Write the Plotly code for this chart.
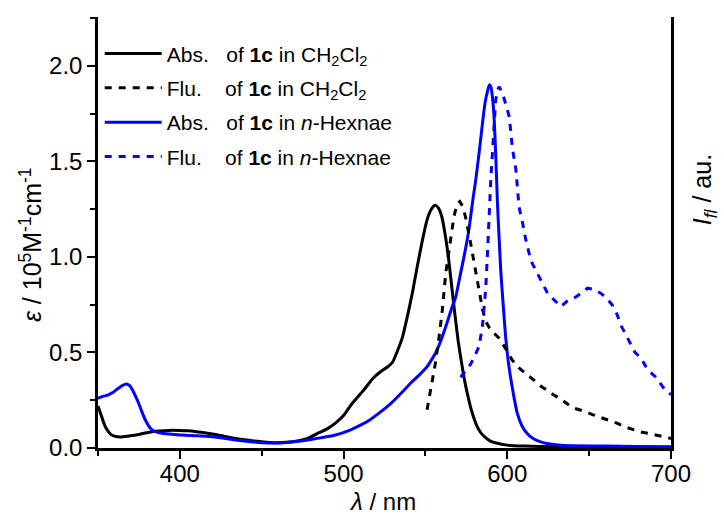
import plotly.graph_objects as go

# ---------------- data ----------------
abs_dcm_wl = [350, 352, 354, 356, 358, 361, 364, 368, 373, 378, 383, 390, 395, 400, 405, 410, 418, 425,
              434, 442, 450, 458, 465, 472, 478, 485, 490, 495, 500, 505, 512, 518, 522, 527, 530, 533,
              536, 539, 542, 545, 548, 550, 552, 554, 556, 558, 560, 562, 564, 566, 568, 570, 572, 574,
              576, 578, 580, 582, 584, 586, 590, 594, 600, 610, 630, 660, 700]
abs_dcm_val = [0.22, 0.17, 0.12, 0.09, 0.07, 0.06, 0.058, 0.062, 0.068, 0.077, 0.085, 0.09, 0.093, 0.092,
               0.09, 0.085, 0.076, 0.065, 0.05, 0.04, 0.033, 0.028, 0.03, 0.037, 0.05, 0.08, 0.10, 0.13,
               0.17, 0.23, 0.30, 0.365, 0.395, 0.425, 0.45, 0.51, 0.58, 0.69, 0.81, 0.95, 1.08, 1.16,
               1.22, 1.255, 1.27, 1.255, 1.21, 1.12, 1.00, 0.85, 0.70, 0.56, 0.45, 0.35, 0.27, 0.20,
               0.147, 0.105, 0.078, 0.06, 0.035, 0.025, 0.015, 0.01, 0.006, 0.005, 0.004]

flu_dcm_wl = [551, 553, 556, 558.3, 560.3, 562.4, 565.4, 567.4, 569.5, 571, 573, 575, 577, 579, 581, 583,
              585, 587, 589, 592, 595, 599, 603, 607, 610, 614, 617, 621, 625, 628, 632, 636, 640, 644,
              648, 652, 657, 662, 667, 672, 677, 681, 686, 691, 696, 700]
flu_dcm_val = [0.20, 0.30, 0.44, 0.58, 0.72, 0.915, 1.09, 1.21, 1.28, 1.29, 1.26, 1.19, 1.10, 1.00, 0.90,
               0.81, 0.72, 0.66, 0.63, 0.60, 0.575, 0.52, 0.46, 0.42, 0.40, 0.37, 0.35, 0.32, 0.30, 0.28,
               0.26, 0.235, 0.21, 0.20, 0.19, 0.175, 0.16, 0.145, 0.13, 0.11, 0.095, 0.085, 0.077, 0.068,
               0.06, 0.05]

abs_hex_wl = [350, 353, 356, 359, 362, 365, 367.5, 369.5, 371, 373, 375, 377, 379, 381, 383, 386, 390,
              395, 401, 410, 418, 426, 434, 442, 450, 458, 465, 472, 480, 488, 495, 504, 510, 516, 522,
              529, 535, 541, 546, 551, 554, 557, 560, 563, 566, 568.5, 571.5, 574, 576.5, 579, 581, 583,
              585, 586.5, 588, 589, 590, 591, 592, 593, 594, 595, 596, 597.5, 599, 600.5, 602, 604, 606,
              609, 612, 616, 620, 625, 631, 640, 660, 680, 700]
abs_hex_val = [0.26, 0.27, 0.277, 0.29, 0.31, 0.328, 0.335, 0.325, 0.305, 0.27, 0.23, 0.185, 0.145, 0.115,
               0.095, 0.083, 0.076, 0.072, 0.068, 0.064, 0.06, 0.052, 0.042, 0.034, 0.028, 0.026, 0.029,
               0.035, 0.045, 0.056, 0.068, 0.094, 0.118, 0.147, 0.185, 0.234, 0.285, 0.34, 0.38, 0.426,
               0.465, 0.51, 0.575, 0.65, 0.73, 0.79, 0.915, 1.02, 1.14, 1.30, 1.42, 1.56, 1.71, 1.81,
               1.87, 1.90, 1.89, 1.83, 1.72, 1.52, 1.28, 1.10, 0.93, 0.75, 0.58, 0.46, 0.37, 0.27, 0.185,
               0.115, 0.077, 0.048, 0.033, 0.022, 0.016, 0.012, 0.01, 0.008, 0.007]

flu_hex_wl = [571.5, 574, 577.7, 580, 582.7, 584.8, 586, 586.8, 587.8, 588.9, 589.9, 590.9, 591.9, 592.9,
              594, 595, 597, 599, 601, 602.1, 603.1, 605.2, 606.2, 607.2, 609.3, 611.3, 614.4, 617.4,
              620.5, 622.5, 624.6, 628, 632.7, 636.8, 641.9, 645, 649, 653, 657, 660, 664, 667, 669.5,
              672, 675.6, 678, 681.7, 685.7, 690.8, 694, 697, 700]
flu_hex_val = [0.37, 0.40, 0.44, 0.48, 0.53, 0.635, 0.74, 0.83, 1.0, 1.23, 1.40, 1.54, 1.72, 1.82, 1.87,
               1.89, 1.86, 1.80, 1.74, 1.66, 1.57, 1.46, 1.37, 1.26, 1.18, 1.09, 0.98, 0.93, 0.88, 0.84,
               0.81, 0.78, 0.74, 0.77, 0.79, 0.81, 0.836, 0.83, 0.81, 0.79, 0.75, 0.70, 0.64, 0.60, 0.54,
               0.50, 0.47, 0.41, 0.37, 0.33, 0.295, 0.28]

x_range = [350, 700]
y_range = [0, 2.255]

BLUE = "#0000ff"
FONT = "Liberation Sans, Arial, sans-serif"
SP = "\u00a0"

# ---------------- figure ----------------
fig = go.Figure()
fig.add_trace(go.Scatter(x=abs_dcm_wl, y=abs_dcm_val, mode="lines", legendgroup="a",
                         line=dict(color="black", width=3, shape="spline", smoothing=0.5),
                         name="Abs." + SP * 3 + "of <b>1c</b> in CH<sub>2</sub>Cl<sub>2</sub>"))
fig.add_trace(go.Scatter(x=flu_dcm_wl, y=flu_dcm_val, mode="lines", yaxis="y2", legendgroup="b",
                         line=dict(color="black", width=3, dash="7px,7px"),
                         name="Flu." + SP * 4 + "of <b>1c</b> in CH<sub>2</sub>Cl<sub>2</sub>"))
fig.add_trace(go.Scatter(x=abs_hex_wl, y=abs_hex_val, mode="lines", legendgroup="c",
                         line=dict(color=BLUE, width=3, shape="spline", smoothing=0.5),
                         name="Abs." + SP * 3 + "of <b>1c</b> in <i>n</i>-Hexnae"))
fig.add_trace(go.Scatter(x=flu_hex_wl, y=flu_hex_val, mode="lines", yaxis="y2", legendgroup="d",
                         line=dict(color=BLUE, width=3, dash="7px,7px"),
                         name="Flu." + SP * 4 + "of <b>1c</b> in <i>n</i>-Hexnae"))

axis_common = dict(showline=True, linecolor="black", linewidth=2.5, showgrid=False, zeroline=False,
                   ticks="outside", ticklen=8, tickwidth=2, tickcolor="black",
                   tickfont=dict(size=24, family=FONT, color="black"))

fig.update_layout(
    width=724, height=516,
    margin=dict(l=98, r=53, t=17, b=68),
    paper_bgcolor="white", plot_bgcolor="white",
    font=dict(family=FONT, color="black"),
    xaxis=dict(range=x_range, dtick=100, tick0=0, ticklabelstandoff=-6,
               minor=dict(dtick=50, tick0=0, ticks="outside", ticklen=5, tickwidth=2, tickcolor="black"),
               **axis_common),
    yaxis=dict(range=y_range, dtick=0.5, tick0=0, tickformat=".1f",
               minor=dict(dtick=0.25, tick0=0, ticks="outside", ticklen=5, tickwidth=2, tickcolor="black"),
               **axis_common),
    yaxis2=dict(range=y_range, overlaying="y", side="right", showline=True, linecolor="black",
                linewidth=2.5, showgrid=False, zeroline=False, showticklabels=False, ticks=""),
    legend=dict(x=0.003, y=0.962, xanchor="left", yanchor="top", bgcolor="rgba(0,0,0,0)",
                font=dict(size=21, family=FONT, color="black"), tracegroupgap=4, itemwidth=57),
    showlegend=True,
    annotations=[
        dict(text="<i>λ</i> / nm", xref="paper", yref="paper", x=0.496, y=-0.124,
             xanchor="center", yanchor="middle", showarrow=False,
             font=dict(size=24, family=FONT, color="black")),
        dict(text="<i>ε</i> / 10<sup>5</sup>M<sup>-1</sup>cm<sup>-1</sup>", xref="paper", yref="paper",
             x=-0.117, y=0.473, xanchor="center", yanchor="middle", textangle=-90, showarrow=False,
             font=dict(size=25, family=FONT, color="black")),
        dict(text="<i>I</i><sub><i>fl</i></sub> / au.", xref="paper", yref="paper",
             x=1.059, y=0.6, xanchor="center", yanchor="middle", textangle=-90, showarrow=False,
             font=dict(size=25, family=FONT, color="black")),
    ],
)

fig.write_html("out.html")
